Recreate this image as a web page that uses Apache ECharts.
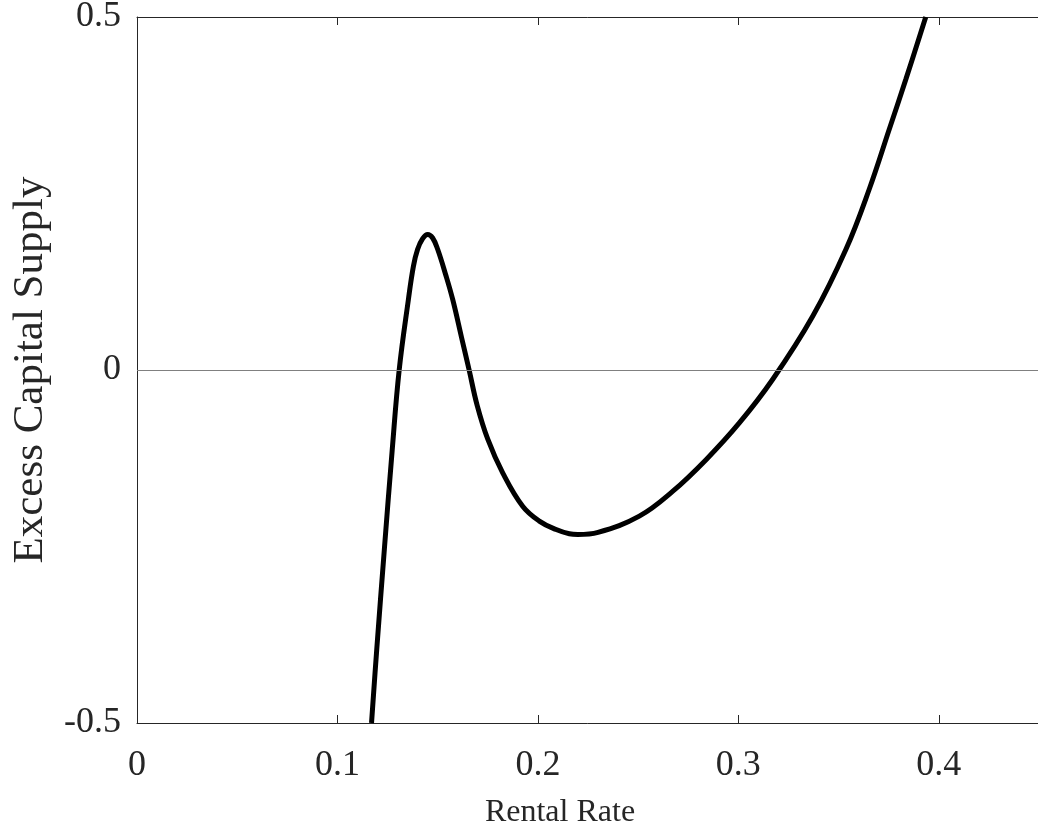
<!DOCTYPE html>
<html>
<head>
<meta charset="utf-8">
<style>html,body{margin:0;padding:0;background:#fff;}#c{width:1038px;height:832px;}</style>
<script src="https://cdn.jsdelivr.net/npm/echarts@6/dist/echarts.min.js"></script>
</head>
<body>
<div id="c"></div>
<script>
const rentalRate = [0.1170, 0.1196, 0.1234, 0.1273, 0.1308, 0.1354, 0.1379, 0.1400, 0.1425, 0.1450, 0.1475, 0.1500, 0.1540, 0.1575, 0.1620, 0.1657, 0.1697, 0.1750, 0.1825, 0.1924, 0.2007, 0.2091, 0.2157, 0.2199, 0.2300, 0.2506, 0.2672, 0.2839, 0.3005, 0.3171, 0.3371, 0.3537, 0.3653, 0.3753, 0.3836, 0.3935];
const excessSupply = [-0.500, -0.396, -0.254, -0.114, 0.000, 0.0999, 0.147, 0.171, 0.186, 0.192, 0.187, 0.171, 0.135, 0.0999, 0.045, 0.000, -0.050, -0.098, -0.146, -0.193, -0.214, -0.226, -0.232, -0.233, -0.230, -0.207, -0.172, -0.127, -0.075, -0.0135, 0.076, 0.171, 0.256, 0.341, 0.412, 0.500];
const xTicks = [0, 0.1, 0.2, 0.3, 0.4];
const yTicks = [-0.5, 0, 0.5];

const data = rentalRate.map((x, i) => [x, excessSupply[i]]);
const font = 'Liberation Serif';
const axisColor = '#262626';

const chart = echarts.init(document.getElementById('c'), null, {renderer: 'canvas'});
chart.setOption({
  animation: false,
  backgroundColor: '#ffffff',
  grid: {left: 137, top: 17, width: 902, height: 706, containLabel: false, outerBoundsMode: 'none'},
  xAxis: [{
    type: 'value', min: 0, max: 0.45, interval: 0.1,
    position: 'bottom',
    name: 'Rental Rate', nameLocation: 'middle', nameGap: 74,
    nameTextStyle: {fontFamily: font, fontSize: 32, color: axisColor, padding: [0, 56, 0, 0]},
    axisLine: {show: true, onZero: false, lineStyle: {color: axisColor, width: 1}},
    axisTick: {show: true, inside: true, length: 8, lineStyle: {color: axisColor}},
    axisLabel: {fontFamily: font, fontSize: 36, color: axisColor, margin: 25,
      formatter: v => xTicks.some(t => Math.abs(t - v) < 1e-9) ? String(+v.toFixed(2)) : ''},
    splitLine: {show: false}
  }, {
    type: 'value', min: 0, max: 0.45, interval: 0.1,
    position: 'top',
    axisLine: {show: true, onZero: false, lineStyle: {color: axisColor, width: 1}},
    axisTick: {show: true, inside: true, length: 8, lineStyle: {color: axisColor}},
    axisLabel: {show: false},
    splitLine: {show: false}
  }],
  yAxis: [{
    type: 'value', min: -0.5, max: 0.5, interval: 0.5,
    position: 'left',
    name: 'Excess Capital Supply', nameLocation: 'middle', nameGap: 85,
    nameTextStyle: {fontFamily: font, fontSize: 43, color: axisColor},
    axisLine: {show: true, onZero: false, lineStyle: {color: axisColor, width: 1}},
    axisTick: {show: true, inside: true, length: 8, lineStyle: {color: axisColor}},
    axisLabel: {fontFamily: font, fontSize: 36, color: axisColor, margin: 16,
      formatter: v => yTicks.some(t => Math.abs(t - v) < 1e-9) ? String(+v.toFixed(2)) : ''},
    splitLine: {show: false}
  }],
  series: [{
    type: 'line',
    data: data,
    showSymbol: false,
    smooth: 0.4,
    clip: true,
    lineStyle: {color: '#000000', width: 5},
    markLine: {
      silent: true, symbol: 'none', label: {show: false},
      lineStyle: {color: '#808080', width: 1, type: 'solid'},
      data: [{yAxis: 0}]
    }
  }]
});
</script>
</body>
</html>
